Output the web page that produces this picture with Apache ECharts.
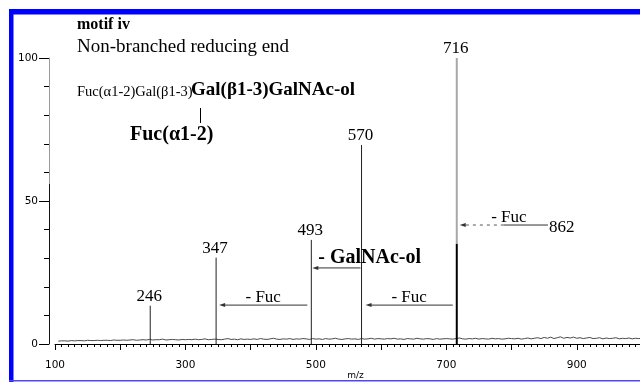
<!DOCTYPE html>
<html>
<head>
<meta charset="utf-8">
<style>
  html, body { margin: 0; padding: 0; background: #fff; }
  #chart { width: 640px; height: 383px; }
</style>
<script src="https://cdn.jsdelivr.net/npm/echarts@6/dist/echarts.min.js"></script>
</head>
<body>
<div id="chart"></div>
<script>
// Fragment ions (m/z) and their relative abundances (%)
const peakMz = [246, 347, 493, 570, 716];
const peakIntensity = [13.4, 30.2, 36.4, 69.6, 100];

// Background signal, sampled every 5 m/z from 105 to 1000 (%)
const noiseStartMz = 105;
const noiseStepMz = 5;
const noiseLevel = [
  1.0,1.1,1.1,1.0,1.2,1.1,1.2,1.2,1.1,1.3,1.2,1.2,1.3,1.2,1.3,1.3,1.2,1.4,1.3,1.3,
  1.4,1.3,1.4,1.5,1.3,1.4,1.5,1.4,1.6,1.4,1.5,1.5,1.7,1.4,1.5,1.6,1.5,1.4,1.6,1.5,
  1.6,1.5,1.7,1.5,1.6,1.8,1.5,1.6,1.7,1.6,1.5,1.7,1.9,1.6,1.7,1.5,1.8,1.6,1.7,1.6,
  1.8,1.6,1.9,1.7,1.6,1.8,2.0,1.7,1.6,1.8,1.7,1.9,1.6,1.8,1.7,1.9,1.8,1.6,1.9,1.7,
  1.8,1.6,1.9,1.7,1.8,2.0,1.7,1.6,1.8,1.9,1.7,1.8,1.6,1.9,1.7,1.8,2.0,1.7,1.9,1.8,
  1.7,1.9,1.8,2.0,1.7,1.8,1.6,1.9,1.8,1.7,2.0,1.8,1.7,1.9,1.8,1.6,1.9,1.7,1.8,1.9,
  1.8,1.7,1.9,2.1,1.8,1.7,1.9,1.8,2.0,1.7,1.9,1.8,1.7,2.0,1.8,1.9,1.7,1.8,2.0,1.9,
  1.8,2.0,1.7,1.9,2.1,1.8,2.0,2.2,1.9,2.3,2.0,2.4,1.9,2.2,2.5,2.0,2.3,2.1,2.4,2.0,
  2.2,1.9,2.1,2.3,1.9,2.0,2.2,1.8,2.1,1.9,2.0,2.2,1.8,2.0,1.9,2.1,1.8,2.0,1.9,2.0
];

// Neutral losses between ions: from m/z -> to m/z
const lossFrom = [493, 716, 862, 570];
const lossTo = [347, 570, 716, 493];
const lossText = ['- Fuc', '- Fuc', '- Fuc', '- GalNAc-ol'];
const precursorMz = 862;

// Axis ticks
const xTickLabels = [100, 300, 500, 700, 900];
const yTickLabels = [0, 50, 100];

// ---- styling / layout ----
const SERIF = '"Liberation Serif", "Times New Roman", serif';
const SANS = '"DejaVu Sans", sans-serif';

// per-arrow layout: level (in %), gaps in px, text offsets in px
const lossLayout = [
  { level: 13.6, gapFrom: 4, gapTo: 3, dx: 0, dy: -8, size: 17, bold: false },
  { level: 13.6, gapFrom: 4, gapTo: 4, dx: 0, dy: -8, size: 17, bold: false },
  { level: 41.6, gapFrom: 4, gapTo: 3, dx: 5, dy: -7, size: 17, bold: false, dashedPart: 0.5 },
  { level: 26.6, gapFrom: 1, gapTo: 1, dx: 0, dy: -10, size: 20, bold: true, textLeft: 6 }
];

const noiseData = noiseLevel.map((v, i) => [noiseStartMz + i * noiseStepMz, v]);
const peakData = peakMz.map((m, i) => [m, peakIntensity[i]]);
const lossData = lossFrom.map((f, i) => [f, lossTo[i], i]);

const chart = echarts.init(document.getElementById('chart'), null, { renderer: 'canvas' });

const yAxisLineColor = new echarts.graphic.LinearGradient(0, 0, 0, 1, [
  { offset: 0, color: '#9a9a9a' },
  { offset: 0.44, color: '#9a9a9a' },
  { offset: 0.44, color: '#111' },
  { offset: 1, color: '#111' }
]);

chart.setOption({
  animation: false,
  backgroundColor: '#fff',
  grid: { left: 55, top: 58, width: 587, bottom: 39, containLabel: false, outerBoundsMode: 'none' },
  xAxis: {
    type: 'value',
    min: 100,
    max: 1000,
    interval: 100,
    offset: 6,
    name: 'm/z',
    nameLocation: 'middle',
    nameGap: 21,
    nameMoveOverlap: false,
    nameTextStyle: { fontFamily: SANS, fontSize: 9, color: '#000', padding: [0, 0, 0, 14] },
    axisLine: { lineStyle: { color: '#000', width: 1 } },
    axisTick: { length: 6, lineStyle: { color: '#000' } },
    minorTick: { show: true, splitNumber: 10, length: 3, lineStyle: { color: '#000' } },
    axisLabel: {
      margin: 10,
      fontFamily: SANS,
      fontSize: 10.5,
      color: '#000',
      formatter: v => (xTickLabels.indexOf(v) >= 0 ? String(v) : '')
    },
    splitLine: { show: false }
  },
  yAxis: {
    type: 'value',
    min: 0,
    max: 100,
    interval: 50,
    offset: 6,
    axisLine: { show: true, lineStyle: { color: yAxisLineColor, width: 1 } },
    axisTick: { show: true, length: 10, lineStyle: { color: '#000' } },
    minorTick: { show: true, splitNumber: 5, length: 5, lineStyle: { color: '#000' } },
    axisLabel: {
      margin: 11,
      fontFamily: SANS,
      fontSize: 10.5,
      color: '#000',
      formatter: v => (yTickLabels.indexOf(v) >= 0 ? String(v) : '')
    },
    splitLine: { show: false }
  },
  series: [
    {
      name: 'background',
      type: 'line',
      data: noiseData,
      showSymbol: false,
      silent: true,
      lineStyle: { color: '#4a4a4a', width: 1 },
      z: 2
    },
    {
      name: 'ions',
      type: 'custom',
      data: peakData,
      silent: true,
      z: 3,
      renderItem: (params, api) => {
        const mz = api.value(0);
        const h = api.value(1);
        const top = api.coord([mz, h]);
        const bot = api.coord([mz, 0]);
        const children = [];
        if (h >= 100) {
          // base peak: heavier stroke, pale upper trace
          const split = api.coord([mz, h * 0.35]);
          children.push({ type: 'line', shape: { x1: top[0], y1: top[1], x2: split[0], y2: split[1] },
            style: { stroke: '#a8a8a8', lineWidth: 2 } });
          children.push({ type: 'line', shape: { x1: split[0], y1: split[1], x2: bot[0], y2: bot[1] },
            style: { stroke: '#000', lineWidth: 2 } });
        } else {
          children.push({ type: 'line', shape: { x1: top[0], y1: top[1], x2: bot[0], y2: bot[1] },
            style: { stroke: '#222', lineWidth: 1 } });
        }
        children.push({
          type: 'text',
          style: {
            text: String(mz), x: top[0] - 1, y: top[1] - 9,
            align: 'center', verticalAlign: 'middle',
            font: '17px ' + SERIF, fill: '#000'
          }
        });
        return { type: 'group', children };
      }
    },
    {
      name: 'losses',
      type: 'custom',
      data: lossData,
      silent: true,
      z: 4,
      renderItem: (params, api) => {
        const i = api.value(2);
        const L = lossLayout[i];
        const from = api.coord([api.value(0), L.level]);
        const to = api.coord([api.value(1), L.level]);
        const xs = from[0] - L.gapFrom;
        const xe = to[0] + L.gapTo;
        const y = from[1];
        const children = [];
        if (L.dashedPart) {
          const xm = xe + (xs - xe) * L.dashedPart;
          children.push({ type: 'line', shape: { x1: xs, y1: y, x2: xm, y2: y },
            style: { stroke: '#333', lineWidth: 1 } });
          children.push({ type: 'line', shape: { x1: xm, y1: y, x2: xe + 4, y2: y },
            style: { stroke: '#555', lineWidth: 1, lineDash: [3, 4] } });
        } else {
          children.push({ type: 'line', shape: { x1: xs, y1: y, x2: xe + 4, y2: y },
            style: { stroke: '#333', lineWidth: 1 } });
        }
        children.push({ type: 'polygon', shape: { points: [[xe, y], [xe + 6, y - 2], [xe + 6, y + 2]] },
          style: { fill: '#333' } });
        const font = (L.bold ? 'bold ' : '') + L.size + 'px ' + SERIF;
        if (L.textLeft !== undefined) {
          children.push({ type: 'text', style: {
            text: lossText[i], x: xe + L.textLeft, y: y + L.dy,
            align: 'left', verticalAlign: 'middle', font, fill: '#000' } });
        } else {
          children.push({ type: 'text', style: {
            text: lossText[i], x: (xs + xe) / 2 + L.dx, y: y + L.dy,
            align: 'center', verticalAlign: 'middle', font, fill: '#000' } });
        }
        if (api.value(0) === precursorMz) {
          children.push({ type: 'text', style: {
            text: String(precursorMz), x: xs + 1, y: y + 3,
            align: 'left', verticalAlign: 'middle', font: '17px ' + SERIF, fill: '#000' } });
        }
        return { type: 'group', children };
      }
    }
  ],
  graphic: [
    // frame
    { type: 'rect', shape: { x: 9, y: 9, width: 640, height: 5.5 }, style: { fill: '#0000ff' }, silent: true },
    { type: 'rect', shape: { x: 9, y: 9, width: 4.5, height: 373 }, style: { fill: '#0000ff' }, silent: true },
    { type: 'rect', shape: { x: 9, y: 380, width: 640, height: 1.5 }, style: { fill: '#4a4af2' }, silent: true },
    // headings and structure
    { type: 'text', style: { text: 'motif iv', x: 77, y: 25, verticalAlign: 'middle',
      font: 'bold 16px ' + SERIF, fill: '#000' } },
    { type: 'text', style: { text: 'Non-branched reducing end', x: 77, y: 47, verticalAlign: 'middle',
      font: '19px ' + SERIF, fill: '#000' } },
    { type: 'text', style: { text: 'Fuc(\u03b11-2)Gal(\u03b21-3)', x: 77, y: 92, verticalAlign: 'middle',
      font: '14.5px ' + SERIF, fill: '#000' } },
    { type: 'text', style: { text: 'Gal(\u03b21-3)GalNAc-ol', x: 191, y: 90, verticalAlign: 'middle',
      font: 'bold 19px ' + SERIF, fill: '#000' } },
    { type: 'line', shape: { x1: 200.5, y1: 108, x2: 200.5, y2: 123 }, style: { stroke: '#000', lineWidth: 1 } },
    { type: 'text', style: { text: 'Fuc(\u03b11-2)', x: 130, y: 135, verticalAlign: 'middle',
      font: 'bold 20px ' + SERIF, fill: '#000' } }
  ]
});
</script>
</body>
</html>
